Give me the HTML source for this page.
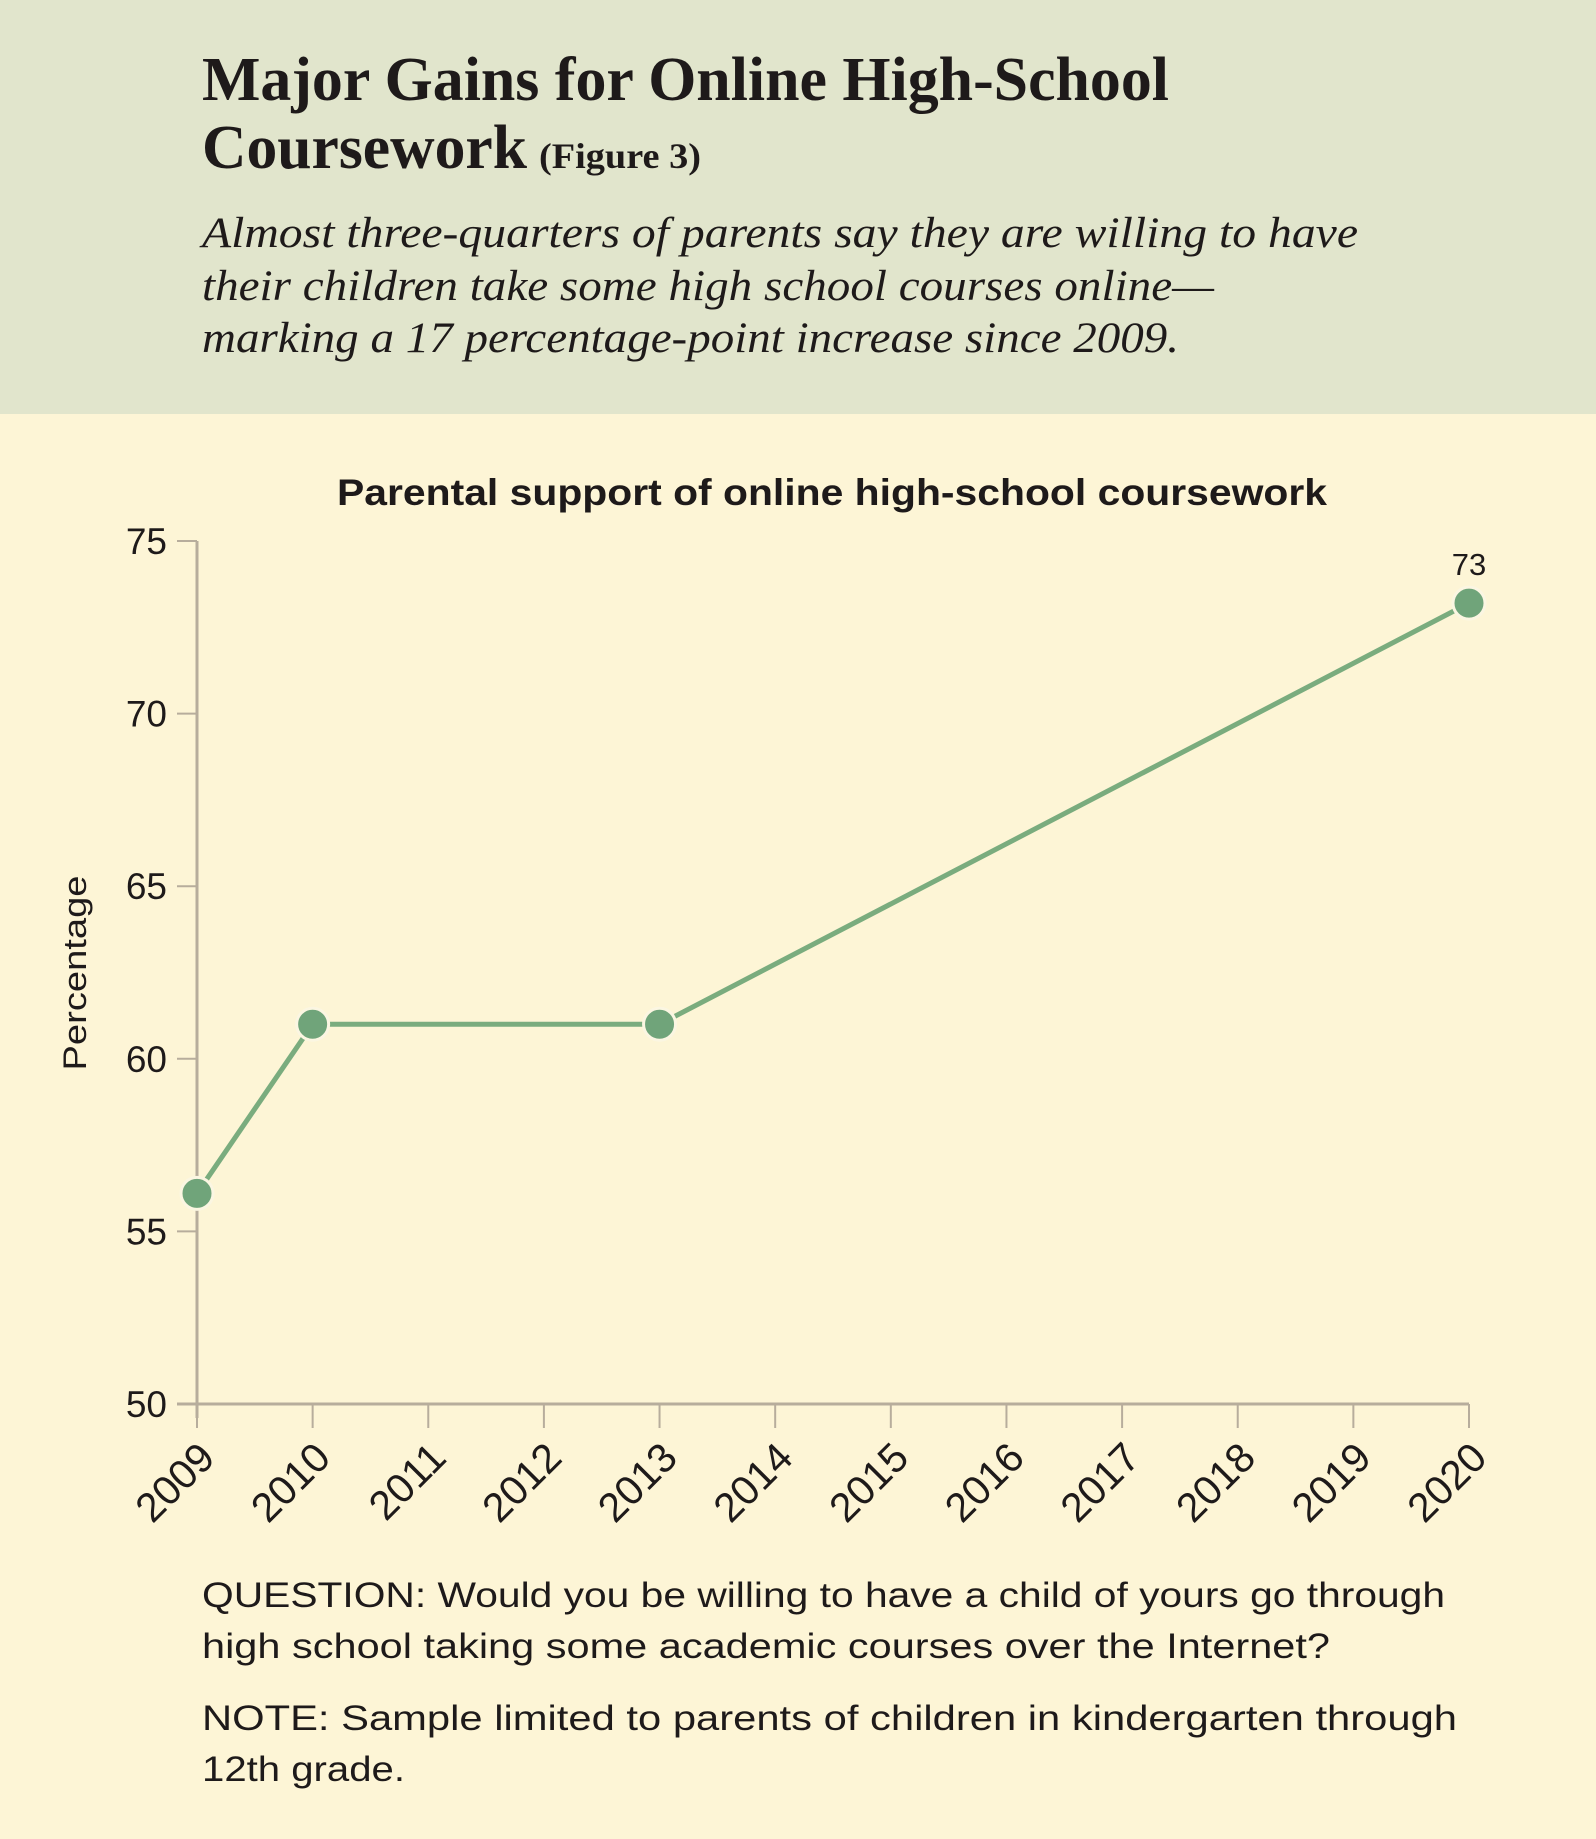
<!DOCTYPE html>
<html><head><meta charset="utf-8"><style>
html,body{margin:0;padding:0;background:#fdf5d6;}
svg{display:block;}
</style></head><body>
<svg id="chart" width="1596" height="1839" viewBox="0 0 1596 1839" xmlns="http://www.w3.org/2000/svg">
<rect x="0" y="0" width="1596" height="414" fill="#e1e5cc"/>
<rect x="0" y="414" width="1596" height="1425" fill="#fdf5d6"/>
<g font-family="'Liberation Serif', serif" fill="#1e1a1a">
<text x="202" y="100" font-size="62" font-weight="bold" textLength="967" lengthAdjust="spacingAndGlyphs">Major Gains for Online High-School</text>
<text x="202" y="168" font-size="62" font-weight="bold" textLength="325" lengthAdjust="spacingAndGlyphs">Coursework</text>
<text x="539" y="168" font-size="36" font-weight="bold" textLength="162" lengthAdjust="spacingAndGlyphs">(Figure 3)</text>
<text x="202" y="247" font-size="43" font-style="italic" textLength="1156" lengthAdjust="spacingAndGlyphs">Almost three-quarters of parents say they are willing to have</text>
<text x="202" y="300" font-size="43" font-style="italic" textLength="1012" lengthAdjust="spacingAndGlyphs">their children take some high school courses online—</text>
<text x="202" y="352" font-size="43" font-style="italic" textLength="977" lengthAdjust="spacingAndGlyphs">marking a 17 percentage-point increase since 2009.</text>
</g>
<g font-family="'Liberation Sans', sans-serif" fill="#1e1a1a">
<text x="832" y="505" font-size="37" font-weight="bold" text-anchor="middle" textLength="990" lengthAdjust="spacingAndGlyphs">Parental support of online high-school coursework</text>
<text transform="translate(86,973) rotate(-90)" font-size="32" text-anchor="middle" textLength="195" lengthAdjust="spacingAndGlyphs">Percentage</text>
<text x="202" y="1607" font-size="35" textLength="1243" lengthAdjust="spacingAndGlyphs">QUESTION: Would you be willing to have a child of yours go through</text>
<text x="202" y="1658" font-size="35" textLength="1128" lengthAdjust="spacingAndGlyphs">high school taking some academic courses over the Internet?</text>
<text x="202" y="1730" font-size="35" textLength="1255" lengthAdjust="spacingAndGlyphs">NOTE: Sample limited to parents of children in kindergarten through</text>
<text x="202" y="1781" font-size="35" textLength="203" lengthAdjust="spacingAndGlyphs">12th grade.</text>
</g>
<g id="plot"></g>
</svg>
<script>
const years = [2009,2010,2011,2012,2013,2014,2015,2016,2017,2018,2019,2020];
const pointYears = [2009,2010,2013,2020];
const pointValues = [56.1,61.0,61.0,73.2];
const yTicks = [50,55,60,65,70,75];
const labelIndex = 3;
const labelText = "73";

const NS = "http://www.w3.org/2000/svg";
const g = document.getElementById('plot');
const X0=197, X1=1469, Y0=1404, Y1=541;
const xs = yr => X0 + (yr-2009)/(2020-2009)*(X1-X0);
const ys = v => Y0 - (v-50)/(75-50)*(Y0-Y1);
function mk(tag, attrs){const e=document.createElementNS(NS,tag);for(const k in attrs)e.setAttribute(k,attrs[k]);g.appendChild(e);return e;}
const axisCol="#b7ad9c";
let e;
e=mk('line',{x1:X0,y1:Y1,x2:X0,y2:Y0+14,stroke:axisCol,'stroke-width':3});


e=mk('line',{x1:X0-20,y1:Y0,x2:X1,y2:Y0,stroke:axisCol,'stroke-width':3});


yTicks.forEach(t=>{
  const y=ys(t);
  e=mk('line',{x1:X0-20,y1:y,x2:X0,y2:y,stroke:axisCol,'stroke-width':2});
  
  
  e=mk('text',{x:167,y:y+13,'font-size':37,'text-anchor':'end','font-family':"'Liberation Sans', sans-serif",fill:'#1e1a1a'});
  e.textContent=t;
  
  
});
years.forEach(yr=>{
  const x=xs(yr);
  e=mk('line',{x1:x,y1:Y0,x2:x,y2:Y0+24,stroke:axisCol,'stroke-width':2});
  
  
  e=mk('text',{transform:`translate(${x+20},${Y0+56}) rotate(-45)`,'font-size':41,'text-anchor':'end','font-family':"'Liberation Sans', sans-serif",fill:'#1e1a1a'});
  e.textContent=yr;
  
  
});
const pts=pointYears.map((yr,i)=>xs(yr)+','+ys(pointValues[i])).join(' ');
e=mk('polyline',{points:pts,fill:'none',stroke:'#7aac7e','stroke-width':5,'stroke-linejoin':'round'});


pointYears.forEach((yr,i)=>{
  e=mk('circle',{cx:xs(yr),cy:ys(pointValues[i]),r:16,fill:'#70a47a',stroke:'#fbf6e2','stroke-width':3});
  
  
});
e=mk('text',{x:xs(pointYears[labelIndex]),y:ys(pointValues[labelIndex])-28,'font-size':31,'text-anchor':'middle','font-family':"'Liberation Sans', sans-serif",fill:'#1e1a1a'});
e.textContent=labelText;


</script>
</body></html>
